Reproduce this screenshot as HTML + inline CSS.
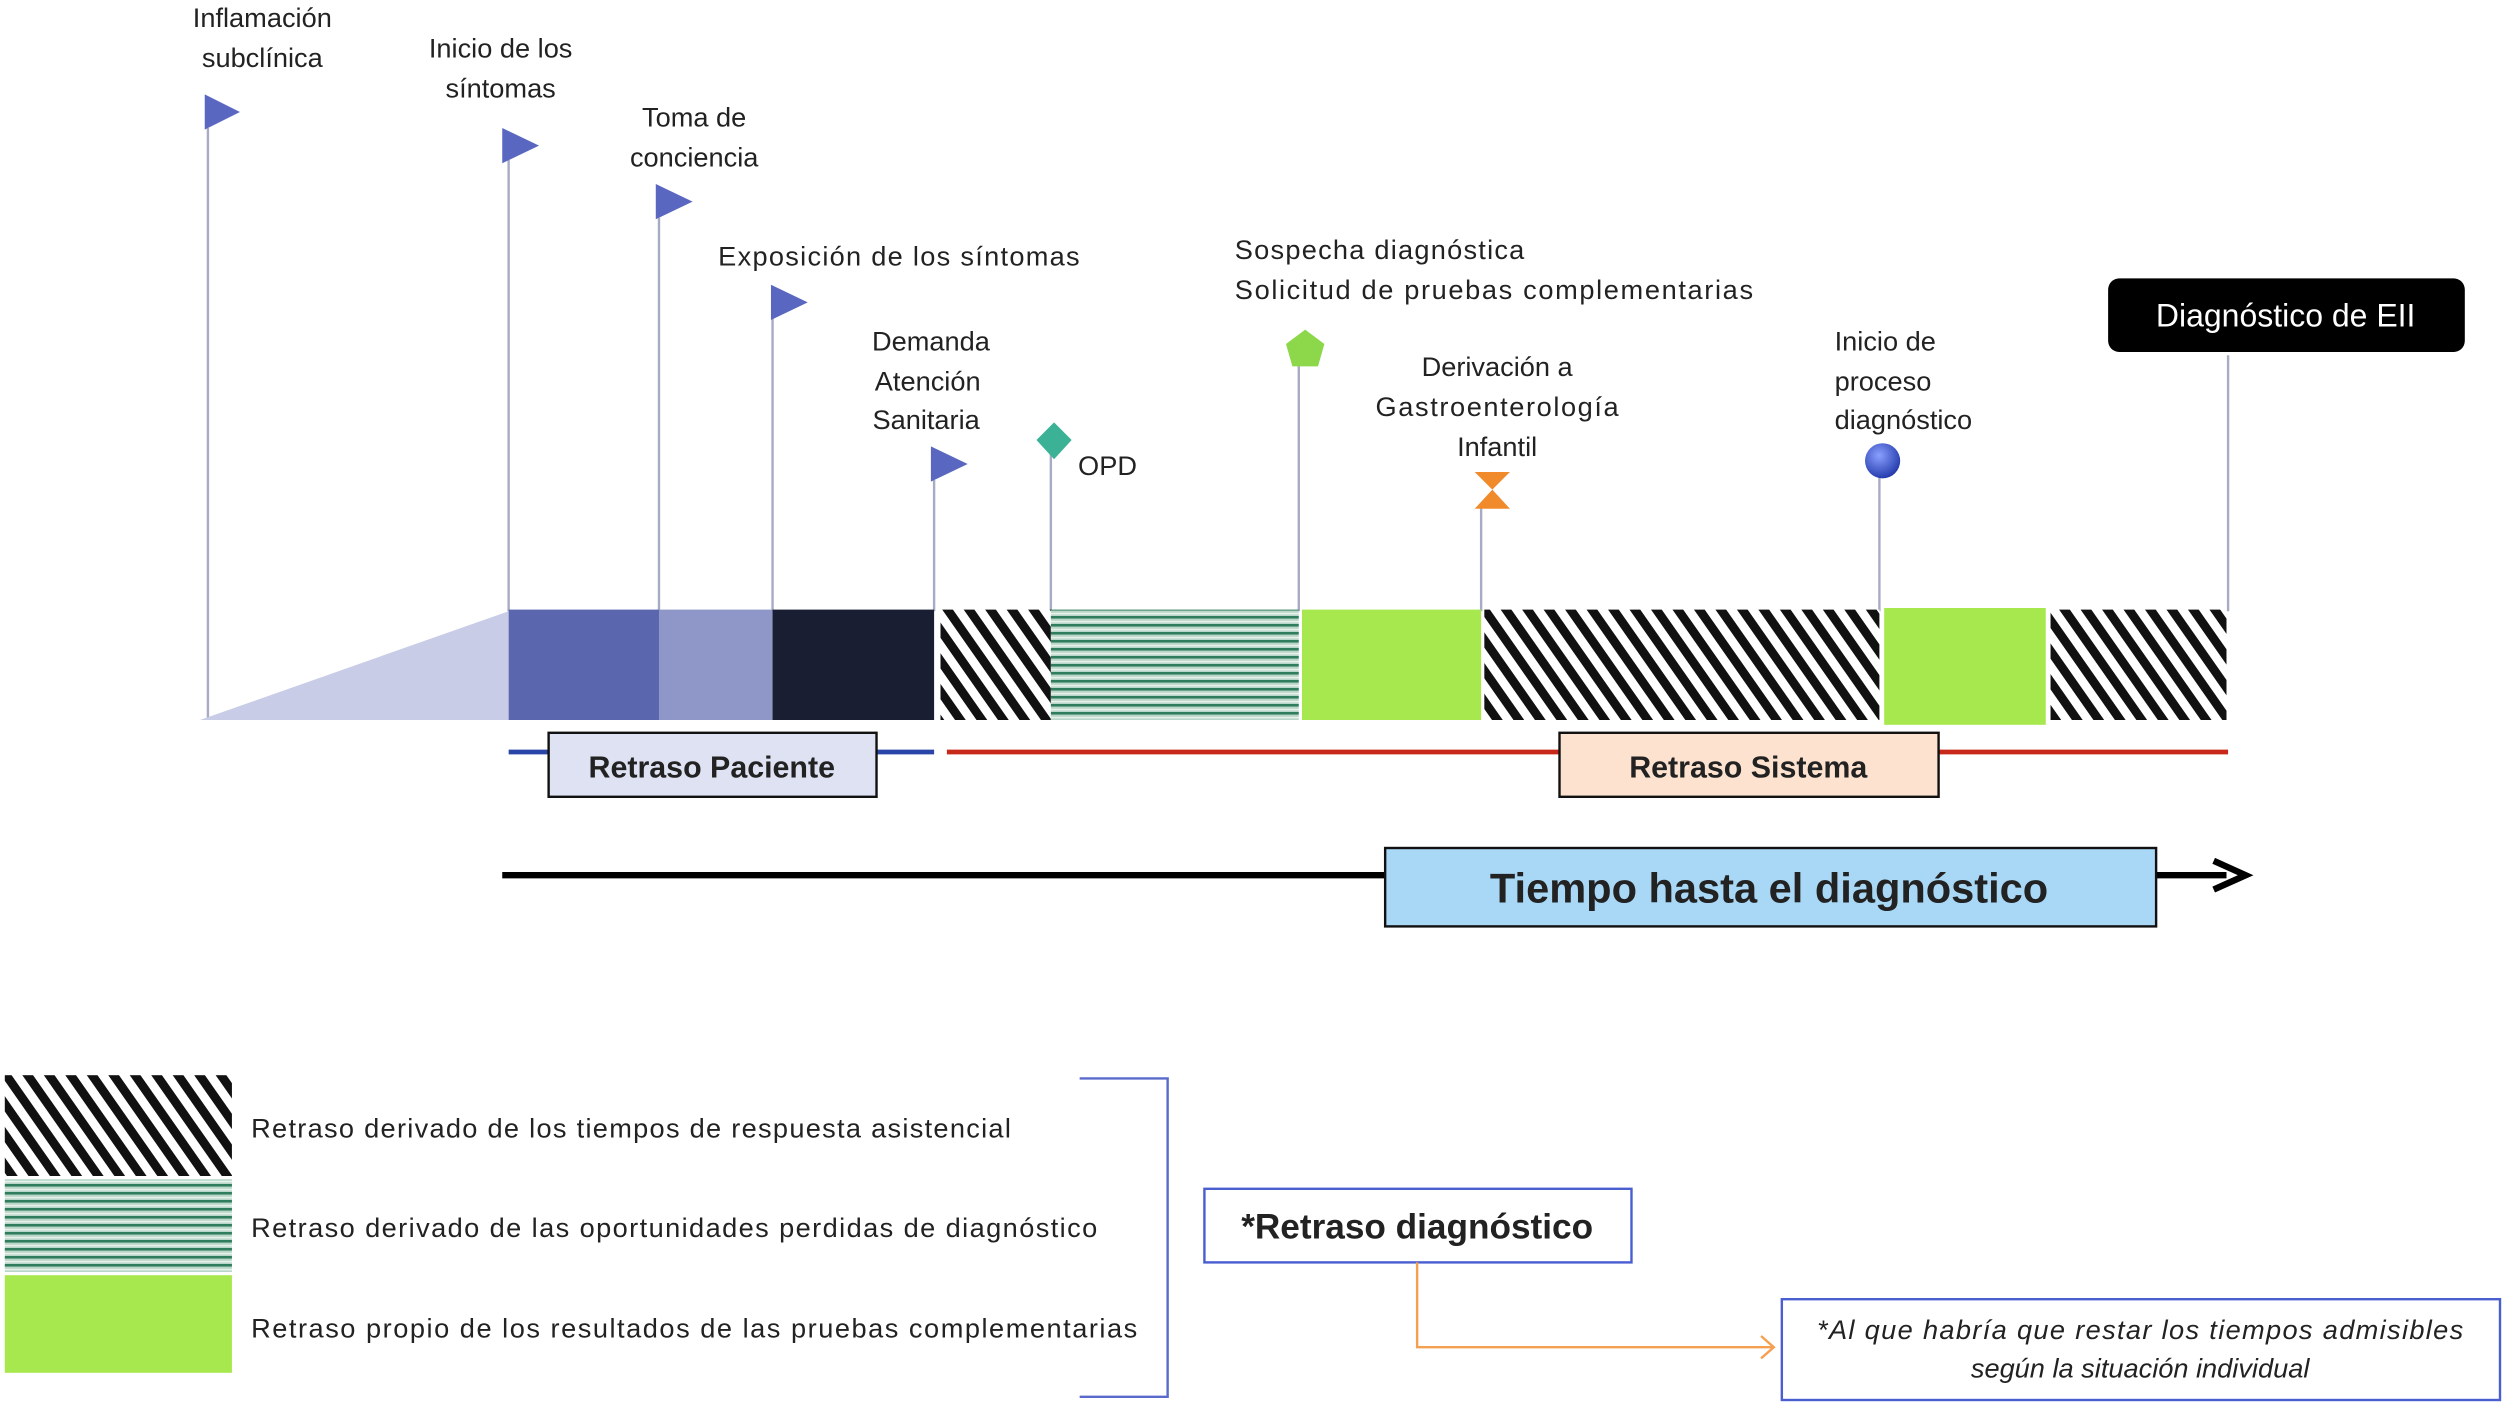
<!DOCTYPE html>
<html><head><meta charset="utf-8"><style>
html,body{margin:0;padding:0;background:#fff;}
svg{display:block;}
text{font-family:"Liberation Sans",sans-serif;fill:#222;}
</style></head><body>
<svg width="2508" height="1408" viewBox="0 0 1568 880" preserveAspectRatio="none" xmlns="http://www.w3.org/2000/svg">
<defs>
<pattern id="diag" patternUnits="userSpaceOnUse" width="11" height="11" patternTransform="rotate(-35)">
<rect width="11" height="11" fill="#fff"/><rect width="5.5" height="11" fill="#111"/>
</pattern>
<pattern id="hz" patternUnits="userSpaceOnUse" width="10" height="5">
<rect width="10" height="5" fill="#b9d6c9"/><rect y="0" width="10" height="1.6" fill="#2f7d5c"/><rect y="3" width="10" height="1" fill="#e8f2ed"/>
</pattern>
<radialGradient id="sph" cx="0.4" cy="0.35" r="0.7"><stop offset="0" stop-color="#8aa0ff"/><stop offset="1" stop-color="#1f35a8"/></radialGradient>
</defs>

<!-- poles -->
<g stroke="#a8abc4" stroke-width="1.5">
<line x1="130" y1="80" x2="130" y2="450"/>
<line x1="318" y1="100" x2="318" y2="382"/>
<line x1="412" y1="136" x2="412" y2="382"/>
<line x1="483" y1="199" x2="483" y2="382"/>
<line x1="584" y1="300" x2="584" y2="382"/>
<line x1="657" y1="283" x2="657" y2="382"/>
<line x1="812" y1="225" x2="812" y2="382"/>
<line x1="926" y1="316" x2="926" y2="382"/>
<line x1="1175" y1="296" x2="1175" y2="382"/>
<line x1="1393" y1="222" x2="1393" y2="382"/>
</g>
<!-- flags -->
<g fill="#5a67c0">
<polygon points="128,59 150,70 128,81"/>
<polygon points="314,80 337,91 314,102"/>
<polygon points="410,115 433,126 410,137"/>
<polygon points="482,178 505,189 482,200"/>
<polygon points="582,279 605,290 582,301"/>
</g>
<polygon points="659,264 670,275 659,287 648,275" fill="#3bb196"/>
<polygon points="816,206 828,215 824,229 808,229 804,215" fill="#8cd84a"/>
<polygon points="922,295 944,295 933,306 944,318 922,318 933,306" fill="#f08a2a"/>
<circle cx="1177" cy="288" r="11" fill="url(#sph)"/>

<!-- labels -->
<g font-size="17">
<text x="164" y="17" text-anchor="middle">Inflamación</text>
<text x="164" y="42" text-anchor="middle">subclínica</text>
<text x="313" y="36" text-anchor="middle">Inicio de los</text>
<text x="313" y="61" text-anchor="middle">síntomas</text>
<text x="434" y="79" text-anchor="middle">Toma de</text>
<text x="434" y="104" text-anchor="middle">conciencia</text>
<text x="449" y="166" textLength="226">Exposición de los síntomas</text>
<text x="582" y="219" text-anchor="middle">Demanda</text>
<text x="580" y="244" text-anchor="middle">Atención</text>
<text x="579" y="268" text-anchor="middle">Sanitaria</text>
<text x="674" y="297">OPD</text>
<text x="772" y="162" textLength="181">Sospecha diagnóstica</text>
<text x="772" y="187" textLength="324">Solicitud de pruebas complementarias</text>
<text x="936" y="235" text-anchor="middle">Derivación a</text>
<text x="936" y="260" text-anchor="middle" textLength="152">Gastroenterología</text>
<text x="936" y="285" text-anchor="middle">Infantil</text>
<text x="1147" y="219">Inicio de</text>
<text x="1147" y="244">proceso</text>
<text x="1147" y="268">diagnóstico</text>
</g>

<rect x="1318" y="174" width="223" height="46" rx="7" fill="#000"/>
<text x="1429" y="204" text-anchor="middle" font-size="20" style="fill:#fff">Diagnóstico de EII</text>

<!-- bars -->
<polygon points="125,450 318,382 318,450" fill="#c8cce6"/>
<rect x="318" y="381" width="94" height="69" fill="#5a67ae"/>
<rect x="412" y="381" width="71" height="69" fill="#8f97c8"/>
<rect x="483" y="381" width="101" height="69" fill="#1a1e33"/>
<rect x="588" y="381" width="69" height="69" fill="url(#diag)"/>
<rect x="657" y="381" width="155" height="69" fill="url(#hz)"/>
<rect x="814" y="381" width="112" height="69" fill="#a6e84e"/>
<rect x="928" y="381" width="247" height="69" fill="url(#diag)"/>
<rect x="1178" y="380" width="101" height="73" fill="#a6e84e"/>
<rect x="1282" y="381" width="110" height="69" fill="url(#diag)"/>

<!-- retraso lines -->
<line x1="318" y1="470" x2="584" y2="470" stroke="#2a45a8" stroke-width="3"/>
<line x1="592" y1="470" x2="1393" y2="470" stroke="#c8281a" stroke-width="3"/>
<rect x="343" y="458" width="205" height="40" fill="#dfe2f3" stroke="#111" stroke-width="1.5"/>
<text x="445" y="486" text-anchor="middle" font-size="19" font-weight="bold">Retraso Paciente</text>
<rect x="975" y="458" width="237" height="40" fill="#fde3cf" stroke="#111" stroke-width="1.5"/>
<text x="1093" y="486" text-anchor="middle" font-size="19" font-weight="bold">Retraso Sistema</text>

<!-- time arrow -->
<line x1="314" y1="547" x2="1392" y2="547" stroke="#000" stroke-width="4"/>
<polyline points="1384,538 1404,547 1384,556" fill="none" stroke="#000" stroke-width="4"/>
<rect x="866" y="530" width="482" height="49" fill="#a9d8f6" stroke="#111" stroke-width="1.5"/>
<text x="1106" y="564" text-anchor="middle" font-size="26" font-weight="bold">Tiempo hasta el diagnóstico</text>

<!-- legend -->
<rect x="3" y="672" width="142" height="63" fill="url(#diag)"/>
<rect x="3" y="737" width="142" height="58" fill="url(#hz)"/>
<rect x="3" y="797" width="142" height="61" fill="#a6e84e"/>
<g font-size="17">
<text x="157" y="711" textLength="475">Retraso derivado de los tiempos de respuesta asistencial</text>
<text x="157" y="773" textLength="529">Retraso derivado de las oportunidades perdidas de diagnóstico</text>
<text x="157" y="836" textLength="554">Retraso propio de los  resultados de las pruebas complementarias</text>
</g>
<polyline points="675,674 730,674 730,873 675,873" fill="none" stroke="#5a6acb" stroke-width="1.5"/>

<rect x="753" y="743" width="267" height="46" fill="#fff" stroke="#4a5ed0" stroke-width="1.5"/>
<text x="886" y="774" text-anchor="middle" font-size="22" font-weight="bold">*Retraso diagnóstico</text>
<polyline points="886,789 886,842 1108,842" fill="none" stroke="#f5a050" stroke-width="1.5"/>
<polyline points="1101,835 1109,842 1101,849" fill="none" stroke="#f5a050" stroke-width="1.5"/>
<rect x="1114" y="812" width="449" height="63" fill="#fff" stroke="#4a5ed0" stroke-width="1.5"/>
<text x="1338" y="837" text-anchor="middle" font-size="17" font-style="italic" textLength="404">*Al que habría que restar los tiempos admisibles</text>
<text x="1338" y="861" text-anchor="middle" font-size="17" font-style="italic">según  la situación individual</text>
</svg>
</body></html>
